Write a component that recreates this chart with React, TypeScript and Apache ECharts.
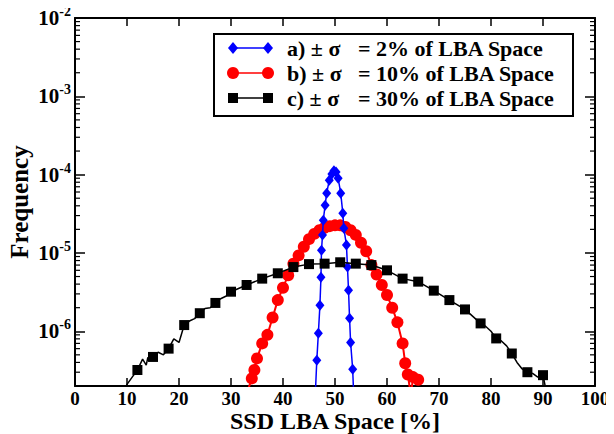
import React, { useEffect, useRef } from "react";
import * as echarts from "echarts";

// Histogram of SSD LBA accesses for three spreads around the 50% point.
const xTicks = [0, 10, 20, 30, 40, 50, 60, 70, 80, 90, 100];
const yDecades = [-7, -6, -5, -4, -3];

// a) sigma = 2%
const sigma2: [number, number][] = [
  [46.2, 1.5e-7], [46.5, 4.25e-7], [46.8, 9.4e-7], [47.1, 2.15e-6], [47.3, 4.9e-6],
  [47.4, 1.08e-5], [47.6, 1.69e-5], [47.75, 2.62e-5], [48.1, 4.07e-5], [48.4, 5.8e-5],
  [48.9, 8.5e-5], [49.4, 1.02e-4], [49.8, 1.12e-4], [50.2, 1.08e-4], [50.6, 9.0e-5],
  [51.1, 5.8e-5], [51.5, 3.22e-5], [51.7, 2.07e-5], [52.2, 1.26e-5], [52.4, 6.6e-6],
  [52.6, 3.34e-6], [52.8, 1.47e-6], [53.0, 7.2e-7], [53.4, 3.27e-7], [53.6, 1.5e-7],
];

// b) sigma = 10%
const sigma10: [number, number][] = [
  [32.9, 1.5e-7], [34, 2.5e-7], [34.5, 3.2e-7], [35, 4.5e-7], [36, 7.0e-7], [37, 9.0e-7],
  [38, 1.5e-6], [39, 2.5e-6], [40, 3.6e-6], [41, 5.2e-6], [42, 7.3e-6], [43, 9.3e-6],
  [44, 1.2e-5], [45, 1.5e-5], [46, 1.75e-5], [47, 1.95e-5], [48, 2.1e-5], [49, 2.2e-5],
  [50, 2.25e-5], [51, 2.25e-5], [52, 2.15e-5], [53, 1.95e-5], [54, 1.7e-5], [55, 1.35e-5],
  [56, 1.05e-5], [57, 7.0e-6], [58, 5.3e-6], [59, 3.9e-6], [60, 2.9e-6], [61, 2.0e-6],
  [62, 1.3e-6], [63, 7.0e-7], [63.5, 3.9e-7], [64, 2.8e-7], [65, 2.6e-7], [66, 2.4e-7],
  [64.6, 1.5e-7],
];

// c) sigma = 30%, marked points
const sigma30: [number, number][] = [
  [12, 3.2e-7], [15, 4.7e-7], [18, 6.0e-7], [21, 1.2e-6], [24, 1.7e-6], [27, 2.3e-6],
  [30, 3.2e-6], [33, 3.9e-6], [36, 4.7e-6], [39, 5.5e-6], [42, 6.6e-6], [45, 7.2e-6],
  [48, 7.3e-6], [51, 7.6e-6], [54, 7.3e-6], [57, 7.0e-6], [60, 6.0e-6], [63, 4.7e-6],
  [66, 4.3e-6], [69, 3.3e-6], [72, 2.5e-6], [75, 1.9e-6], [78, 1.26e-6], [81, 8.1e-7],
  [84, 5.2e-7], [87, 3.0e-7], [90, 2.75e-7],
];

// c) unmarked samples between the marked ones
const sigma30Trace: [number, number][] = [
  [9, 1.5e-7], [10, 2.1e-7], [11, 2.6e-7], [13, 4.4e-7], [13.7, 3.7e-7], [14, 4.6e-7],
  [16, 5.4e-7], [17, 5.0e-7], [19, 8.0e-7], [20, 7.2e-7], [22, 1.35e-6], [23, 1.45e-6],
  [25, 1.95e-6], [26, 2.0e-6], [28, 2.6e-6], [29, 2.8e-6], [79, 1.15e-6], [80, 1.0e-6],
  [82, 7.5e-7], [83, 6.5e-7], [85, 4.0e-7], [86, 3.3e-7], [88, 2.9e-7], [89, 2.6e-7],
  [90.8, 1.5e-7],
];

const legendNames = ["a) \u00b1 \u03c3", "b) \u00b1 \u03c3", "c) \u00b1 \u03c3"];
const legendValues = ["= 2% of LBA Space", "= 10% of LBA Space", "= 30% of LBA Space"];

const FONT = "'Liberation Serif', 'Times New Roman', serif";
const BLUE = "#0000ff";
const RED = "#ff0000";
const BLACK = "#000000";

function byX(a: { value: [number, number] }, b: { value: [number, number] }) {
  return a.value[0] - b.value[0];
}

export default function App() {
  const ref = useRef<HTMLDivElement>(null);

  useEffect(() => {
    if (!ref.current) return;
    const chart = echarts.init(ref.current, undefined, { renderer: "svg" });

    const blackData = [
      ...sigma30.map((p) => ({ value: p })),
      ...sigma30Trace.map((p) => ({ value: p, symbol: "none" })),
    ].sort(byX);
    const redData = [...sigma10].sort((a, b) => a[0] - b[0]);

    const labelStyle = {
      color: "#000",
      fontFamily: FONT,
      fontWeight: "bold" as const,
      fontSize: 20,
    };

    const xBase = {
      type: "value" as const,
      min: xTicks[0],
      max: xTicks[xTicks.length - 1],
      interval: 10,
      splitLine: { show: false },
      axisLine: { onZero: false, lineStyle: { color: "#000", width: 2 } },
      axisTick: { inside: true, length: 8, lineStyle: { color: "#000", width: 1.5 } },
    };
    const yBase = {
      type: "log" as const,
      logBase: 10,
      min: 2e-7,
      max: 1e-2,
      splitLine: { show: false },
      axisLine: { onZero: false, lineStyle: { color: "#000", width: 2 } },
      axisTick: { inside: true, length: 10, lineStyle: { color: "#000", width: 1.5 } },
    };

    const expLabel = (v: number) => {
      const e = Math.round(Math.log10(v));
      if (Math.abs(v - Math.pow(10, e)) / Math.pow(10, e) > 1e-6) return "";
      return `{b|10}{s|${e}}`;
    };

    chart.setOption({
      animation: false,
      backgroundColor: "#fff",
      grid: { left: 75, right: 19, top: 18, bottom: 48, outerBoundsMode: "none", containLabel: false },
      xAxis: [
        {
          ...xBase,
          position: "bottom",
          axisLabel: { ...labelStyle, fontSize: 19, margin: 5, lineHeight: 14 },
          name: "SSD LBA Space [%]",
          nameLocation: "middle",
          nameGap: 26,
          nameMoveOverlap: false,
          nameTextStyle: { ...labelStyle, fontSize: 24, lineHeight: 18 },
        },
        { ...xBase, position: "top", axisLabel: { show: false } },
      ],
      yAxis: [
        {
          ...yBase,
          position: "left",
          axisLabel: {
            margin: 4,
            formatter: expLabel,
            rich: {
              b: { ...labelStyle, fontSize: 21 },
              s: { ...labelStyle, fontSize: 14, padding: [0, 0, 13, 0] },
            },
          },
          name: "Frequency",
          nameLocation: "middle",
          nameGap: 43,
          nameMoveOverlap: false,
          nameTextStyle: { ...labelStyle, fontSize: 25 },
        },
        { ...yBase, position: "right", axisLabel: { show: false } },
      ],
      series: [
        {
          name: legendNames[0],
          type: "line",
          data: sigma2,
          z: 3,
          symbol: "diamond",
          symbolSize: [9, 11],
          showAllSymbol: true,
          clip: true,
          itemStyle: { color: BLUE },
          lineStyle: { color: BLUE, width: 1.5 },
        },
        {
          name: legendNames[1],
          type: "line",
          data: redData,
          z: 2,
          symbol: "circle",
          symbolSize: 12,
          showAllSymbol: true,
          clip: true,
          itemStyle: { color: RED },
          lineStyle: { color: RED, width: 2 },
        },
        {
          name: legendNames[2],
          type: "line",
          data: blackData,
          z: 4,
          symbol: "rect",
          symbolSize: 10,
          showAllSymbol: true,
          clip: true,
          itemStyle: { color: BLACK },
          lineStyle: { color: BLACK, width: 1.5 },
        },
      ],
    });

    // Minor log ticks on both vertical axes, placed through the y scale
    const leftX = chart.convertToPixel({ xAxisIndex: 0 }, xTicks[0]) as number;
    const rightX = chart.convertToPixel({ xAxisIndex: 0 }, xTicks[xTicks.length - 1]) as number;
    const minor: any[] = [];
    yDecades.forEach((d) => {
      for (let k = 2; k <= 9; k++) {
        const v = k * Math.pow(10, d);
        if (v < 2e-7 || v > 1e-2) continue;
        const py = chart.convertToPixel({ yAxisIndex: 0 }, v) as number;
        minor.push({
          type: "line",
          shape: { x1: leftX, y1: py, x2: leftX + 5, y2: py },
          style: { stroke: "#000", lineWidth: 1.2 },
          silent: true,
        });
        minor.push({
          type: "line",
          shape: { x1: rightX - 5, y1: py, x2: rightX, y2: py },
          style: { stroke: "#000", lineWidth: 1.2 },
          silent: true,
        });
      }
    });

    // Legend box
    const rows = [48, 73, 98];
    const legend: any[] = [
      {
        type: "rect",
        shape: { x: 214, y: 34, width: 359, height: 82 },
        style: { fill: "#fff", stroke: "#000", lineWidth: 2 },
        z: 10,
      },
    ];
    const colors = [BLUE, RED, BLACK];
    rows.forEach((cy, i) => {
      const c = colors[i];
      legend.push({
        type: "line",
        shape: { x1: 233, y1: cy, x2: 268, y2: cy },
        style: { stroke: c, lineWidth: 1.5 },
        z: 11,
      });
      [233, 268].forEach((cx) => {
        if (i === 0) {
          legend.push({
            type: "polygon",
            shape: { points: [[cx, cy - 6], [cx + 5, cy], [cx, cy + 6], [cx - 5, cy]] },
            style: { fill: c },
            z: 12,
          });
        } else if (i === 1) {
          legend.push({ type: "circle", shape: { cx, cy, r: 6 }, style: { fill: c }, z: 12 });
        } else {
          legend.push({
            type: "rect",
            shape: { x: cx - 5, y: cy - 5, width: 10, height: 10 },
            style: { fill: c },
            z: 12,
          });
        }
      });
      legend.push({
        type: "text",
        x: 287,
        y: cy,
        style: {
          text: legendNames[i],
          fill: "#000",
          font: `bold 22px ${FONT}`,
          verticalAlign: "middle",
        },
        z: 12,
      });
      legend.push({
        type: "text",
        x: 358,
        y: cy,
        style: {
          text: legendValues[i],
          fill: "#000",
          font: `bold 22px ${FONT}`,
          verticalAlign: "middle",
        },
        z: 12,
      });
    });

    chart.setOption({ graphic: [...minor, ...legend] });

    return () => chart.dispose();
  }, []);

  return <div ref={ref} style={{ width: 614, height: 434, marginLeft: -8, marginTop: -8 }} />;
}
